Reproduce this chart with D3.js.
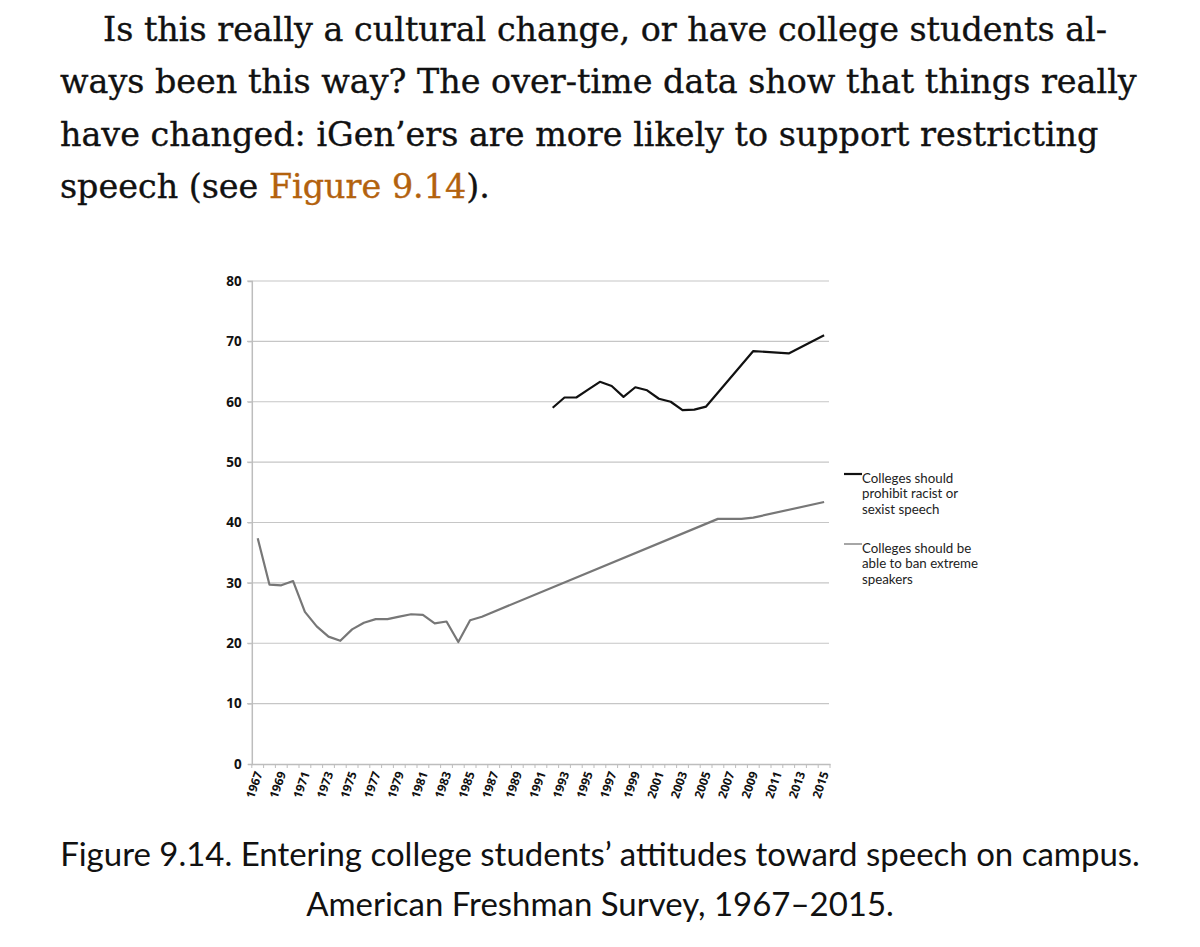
<!DOCTYPE html>
<html>
<head>
<meta charset="utf-8">
<script src="https://cdn.jsdelivr.net/npm/d3@7"></script>
<style>
 html,body{margin:0;padding:0;background:#fff;}
 svg{display:block;}
</style>
</head>
<body>
<svg id="page" width="1200" height="947"></svg>
<script>
// ---- data ----
const years=d3.range(1967,2016);
const yTicks=[0,10,20,30,40,50,60,70,80];

const racistYears=[1992,1993,1994,1995,1996,1997,1998,1999,2000,2001,2002,2003,2004,2005,2009,2012,2015];
const racistVals=[59.0,60.7,60.7,62.0,63.3,62.6,60.8,62.4,61.9,60.5,60.0,58.6,58.7,59.2,68.4,68.0,71.0];

const banYears=[1967,1968,1969,1970,1971,1972,1973,1974,1975,1976,1977,1978,1979,1980,1981,1982,1983,1984,1985,1986,2006,2007,2008,2009,2015];
const banVals=[37.4,29.7,29.6,30.3,25.2,22.8,21.1,20.4,22.3,23.4,24.0,24.0,24.4,24.8,24.7,23.3,23.6,20.2,23.8,24.4,40.6,40.6,40.6,40.8,43.4];

const legendLabels=[
 ["Colleges should","prohibit racist or","sexist speech"],
 ["Colleges should be","able to ban extreme","speakers"]
];

const paraLines=[
 [{t:"Is this really a cultural change, or have college students al-"}],
 [{t:"ways been this way? The over-time data show that things really"}],
 [{t:"have changed: iGen’ers are more likely to support restricting"}],
 [{t:"speech (see "},{t:"Figure 9.14",link:true},{t:")."}]
];
const captionLines=[
 "Figure 9.14. Entering college students’ attitudes toward speech on campus.",
 "American Freshman Survey, 1967–2015."
];

const svg=d3.select("#page");

// ---- paragraph ----
const serif="'DejaVu Serif', serif";
const probe=svg.append("text").attr("font-family",serif).attr("font-size",40).text(paraLines[1][0].t);
const pSize=40*1077/probe.node().getComputedTextLength();
probe.remove();
const paraX=[103,60,60,60], paraY=[41,93,146,198];
paraLines.forEach((segs,i)=>{
 const t=svg.append("text").attr("x",paraX[i]).attr("y",paraY[i])
  .attr("font-family",serif).attr("font-size",pSize).attr("fill","#111")
  .attr("stroke","#111").attr("stroke-width",0.35);
 segs.forEach(s=>t.append("tspan")
  .attr("fill",s.link?"#b3620e":"#111").attr("stroke",s.link?"#b3620e":"#111").text(s.t));
});

// ---- chart ----
const x=d3.scaleBand().domain(years).range([251.8,830]);
const y=d3.scaleLinear().domain([0,80]).range([764,281]);
const cx=yr=>x(yr)+x.bandwidth()/2;

const g=svg.append("g");

g.selectAll("line.grid").data(yTicks.filter(d=>d>0)).enter().append("line")
 .attr("x1",247).attr("x2",829)
 .attr("y1",d=>y(d)).attr("y2",d=>y(d))
 .attr("stroke","#c6c6c6").attr("stroke-width",1.2);

const yAxis=g.append("g").attr("transform","translate(251.8,0)")
 .call(d3.axisLeft(y).tickValues(yTicks).tickSize(4).tickPadding(6));
yAxis.select(".domain").attr("stroke","#bdbdbd").attr("stroke-width",1.5);
yAxis.selectAll(".tick line").attr("stroke","#bdbdbd");
yAxis.selectAll("text").attr("font-family","'Open Sans', sans-serif").attr("font-weight",700)
 .attr("font-size",13.5).attr("fill","#111");

const xAxis=g.append("g").attr("transform","translate(0,764)")
 .call(d3.axisBottom(x).tickSize(0).tickFormat(d=>d%2===1?d:""));
xAxis.select(".domain").attr("stroke","#bdbdbd").attr("stroke-width",1.5);
xAxis.selectAll("text")
 .attr("font-family","'Open Sans', sans-serif").attr("font-weight",700)
 .attr("font-size",12).attr("fill","#111")
 .attr("text-anchor","end").attr("dy","0.35em")
 .attr("transform","translate(1,8) rotate(-71)").attr("y",0).attr("x",0);

// band boundary ticks
g.selectAll("line.xt").data(years.concat([null])).enter().append("line")
 .attr("x1",(d,i)=>x.range()[0]+i*x.step()).attr("x2",(d,i)=>x.range()[0]+i*x.step())
 .attr("y1",764).attr("y2",768)
 .attr("stroke","#bdbdbd");

const line=d3.line().x(d=>cx(d[0])).y(d=>y(d[1]));
g.append("path").datum(banYears.map((yr,i)=>[yr,banVals[i]]))
 .attr("d",line).attr("fill","none").attr("stroke","#777").attr("stroke-width",2.2)
 .attr("stroke-linejoin","round");
g.append("path").datum(racistYears.map((yr,i)=>[yr,racistVals[i]]))
 .attr("d",line).attr("fill","none").attr("stroke","#111").attr("stroke-width",2.2)
 .attr("stroke-linejoin","round");

// ---- legend ----
const legColors=["#111","#888"], legY=[474,544];
legendLabels.forEach((lines,i)=>{
 g.append("line").attr("x1",844).attr("x2",862).attr("y1",legY[i]).attr("y2",legY[i])
  .attr("stroke",legColors[i]).attr("stroke-width",i?1.5:2.2);
 const t=g.append("text").attr("x",862).attr("y",legY[i]+8.5)
  .attr("font-family","'Lato', sans-serif").attr("font-size",13.3).attr("fill","#222");
 lines.forEach((l,j)=>t.append("tspan").attr("x",862).attr("dy",j?15.5:0).text(l));
});

// ---- caption ----
const sans="'Lato', sans-serif";
const probe2=svg.append("text").attr("font-family",sans).attr("font-size",30).text(captionLines[0]);
const cSize=30*1080/probe2.node().getComputedTextLength();
probe2.remove();
captionLines.forEach((l,i)=>{
 svg.append("text").attr("x",600).attr("y",[866,916][i]).attr("text-anchor","middle")
  .attr("font-family",sans).attr("font-size",cSize).attr("fill","#111").text(l);
});
</script>
</body>
</html>
